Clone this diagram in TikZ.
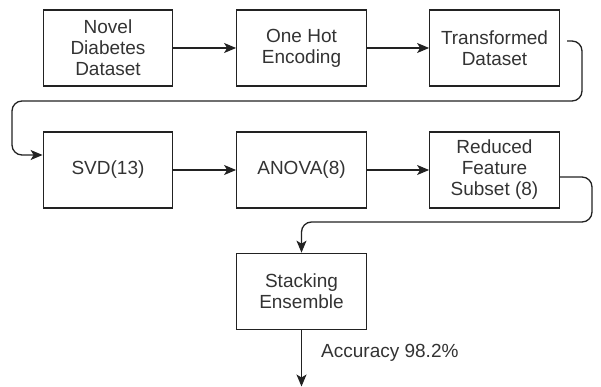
\documentclass[tikz,border=0pt]{standalone}
\usepackage{fontspec}
\setmainfont{Liberation Sans}
\usetikzlibrary{arrows.meta}
\definecolor{ink}{HTML}{222222}
\definecolor{txt}{HTML}{333333}
\tikzset{
  procbox/.style={draw=ink, line width=1.3pt, rectangle, minimum width=129.5pt,
    minimum height=76pt, inner sep=0pt, align=center, text=txt,
    font=\fontsize{19}{21}\selectfont},
  flow/.style={draw=ink, line width=1.3pt,
    -{Stealth[length=12pt,width=10pt,inset=3pt]}},
  lbl/.style={text=txt, font=\fontsize{19}{21}\selectfont, inner sep=0pt}
}
\begin{document}
\begin{tikzpicture}[x=1pt,y=-1pt]
\useasboundingbox (0,0) rectangle (601,387);

% first row
\node[procbox] (novel) at (108,48) {Novel\\Diabetes\\Dataset};
\node[procbox] (onehot) at (301.5,48) {One Hot\\Encoding};
\node[procbox] (trans) at (494.5,48) {Transformed\\Dataset};

% second row
\node[procbox] (svd) at (108,170) {SVD(13)};
\node[procbox] (anova) at (301.5,170) {ANOVA(8)};
\node[procbox] (reduced) at (494.5,170) {Reduced\\Feature\\Subset (8)};

% classifier
\node[procbox] (stack) at (301.5,291.3) {Stacking\\Ensemble};

\draw[flow] (novel) -- (onehot);
\draw[flow] (onehot) -- (trans);
\draw[flow] (svd) -- (anova);
\draw[flow] (anova) -- (reduced);

% wrap-around from the first row to the second
\coordinate (tout) at (567,41);
\coordinate (sin) at ([yshift=15pt]svd.west);
\draw[flow, rounded corners=10pt] (tout) -- (582,41) -- (582,101) -- (12,101)
  -- (12,155) -- (sin);

% from the reduced subset down to the ensemble
\coordinate (rout) at ([yshift=-7pt]reduced.east);
\draw[flow, rounded corners=10pt] (rout) -- (592,177) -- (592,222)
  -- (301.5,222) -- (stack.north);

% output
\coordinate (result) at (301.5,386.5);
\draw[flow] (stack.south) -- (result);
\node[lbl, anchor=west] (acc) at (321,353) {Accuracy 98.2\%};
\end{tikzpicture}
\end{document}
